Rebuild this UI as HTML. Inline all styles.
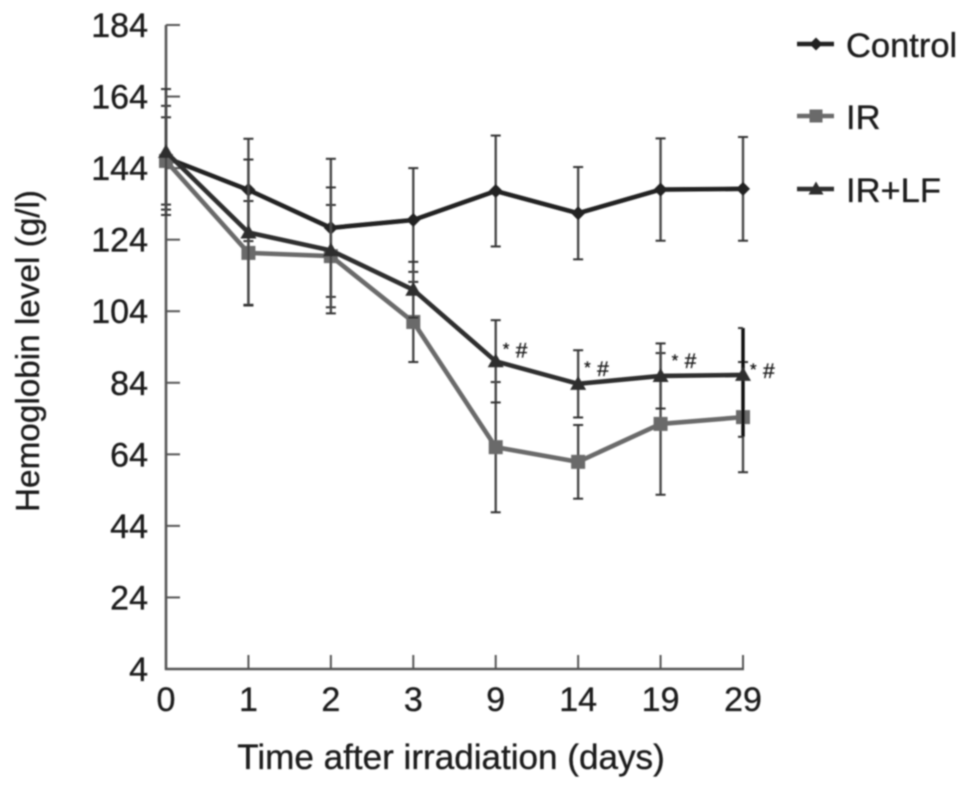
<!DOCTYPE html>
<html>
<head>
<meta charset="utf-8">
<style>
html,body{margin:0;padding:0;background:#fff;}
svg{display:block;}
text{font-family:"Liberation Sans",sans-serif;fill:#1c1c1c;stroke:#1c1c1c;stroke-width:0.35px;}
</style>
</head>
<body>
<svg id="chart" xmlns="http://www.w3.org/2000/svg" width="969" height="789" viewBox="0 0 969 789">
<defs><filter id="soft" x="-5%" y="-5%" width="110%" height="110%"><feGaussianBlur stdDeviation="0.7"/></filter></defs>
<g id="root" filter="url(#soft)"></g>
</svg>
<script>
const categories = ['0','1','2','3','9','14','19','29'];
const yTicks = [4,24,44,64,84,104,124,144,164,184];
const controlValues = [146.9,137.9,127.3,129.5,137.6,131.4,138,138.2];
const controlErrors = [14.5,14.3,19.3,14.5,15.5,12.9,14.3,14.5];
const irValues = [146,120.3,119.4,101,66,61.9,72.5,74.4];
const irErrors = [12.2,14.5,14.3,11.2,18.2,10.3,19.8,15.4];
const irlfValues = [148.5,126,121,110,90,83.7,85.9,86.2];
const irlfUpperErrors = [17.6,20.4,17.6,7.8,11.5,9.4,9.1,13.1];
const irlfLowerErrors = [17.6,20.4,17.6,7.8,11.5,9.4,9.1,17.3];
const annotatedPoints = [4,5,6,7];

const NS = 'http://www.w3.org/2000/svg';
const root = document.getElementById('root');
function xScale(i){ return 166 + i * (743 - 166) / (categories.length - 1); }
function yScale(v){ return 669 - (v - 4) * (669 - 25) / 180; }
function make(tag, attrs, parent){
  const el = document.createElementNS(NS, tag);
  for (const k in attrs) el.setAttribute(k, attrs[k]);
  (parent || root).appendChild(el);
  return el;
}
function marker(shape, x, y, color, size, parent){
  if (shape === 'diamond') {
    make('polygon', {points:`${x},${y-size} ${x+size},${y} ${x},${y+size} ${x-size},${y}`, fill:color}, parent);
  } else if (shape === 'square') {
    make('rect', {x:x-size, y:y-size, width:size*2, height:size*2, fill:color}, parent);
  } else {
    make('polygon', {points:`${x},${y-size-1} ${x+size+1},${y+size-1} ${x-size-1},${y+size-1}`, fill:color}, parent);
  }
}

/* axes */
const axisGroup = make('g', {stroke:'#555', 'stroke-width':2.6, fill:'none'});


make('line', {x1:166, y1:yScale(184), x2:166, y2:670}, axisGroup);
make('line', {x1:165, y1:669, x2:744, y2:669}, axisGroup);
yTicks.forEach(t => {
  if (t !== 4) make('line', {x1:166, y1:yScale(t), x2:180, y2:yScale(t), 'stroke-width':2}, axisGroup);
  const label = make('text', {x:148, y:yScale(t) + 12, 'text-anchor':'end', 'font-size':34});
  
  
  label.textContent = t;
});
categories.forEach((c, i) => {
  if (i > 0) make('line', {x1:xScale(i), y1:669, x2:xScale(i), y2:655, 'stroke-width':2}, axisGroup);
  const label = make('text', {x:xScale(i), y:711, 'text-anchor':'middle', 'font-size':34});
  
  
  label.textContent = c;
});

/* axis titles */
const yTitle = make('text', {transform:'translate(39,351) rotate(-90)', 'text-anchor':'middle', 'font-size':33.3});


yTitle.textContent = 'Hemoglobin level (g/l)';
const xTitle = make('text', {x:451, y:769, 'text-anchor':'middle', 'font-size':35.1});


xTitle.textContent = 'Time after irradiation (days)';

/* series */
function drawSeries(name, values, upper, lower, color, shape, size, width){
  const g = make('g', {});
  
  
  values.forEach((v, i) => {
    const x = xScale(i), top = yScale(v + upper[i]), bot = yScale(v - lower[i]);
    const heavy = name === 'ir-lf' && i === values.length - 1;
    make('line', {x1:x, y1:top, x2:x, y2:bot, stroke:heavy ? '#111' : '#4a4a4a', 'stroke-width':heavy ? 3.4 : 2.4}, g);
    make('line', {x1:x-5, y1:top, x2:heavy ? x : x+5, y2:top, stroke:'#333', 'stroke-width':2}, g);
    make('line', {x1:x-5, y1:bot, x2:heavy ? x : x+5, y2:bot, stroke:'#333', 'stroke-width':2}, g);
  });
  const pts = values.map((v, i) => xScale(i) + ',' + yScale(v)).join(' ');
  make('polyline', {points:pts, fill:'none', stroke:color, 'stroke-width':width}, g);
  values.forEach((v, i) => marker(shape, xScale(i), yScale(v), color, size, g));
}
drawSeries('control', controlValues, controlErrors, controlErrors, '#222', 'diamond', 7, 4.6);
drawSeries('ir', irValues, irErrors, irErrors, '#6a6a6a', 'square', 7, 4.6);
drawSeries('ir-lf', irlfValues, irlfUpperErrors, irlfLowerErrors, '#2e2e2e', 'triangle', 7, 4.6);

/* significance marks: hand placement relative to each annotated point */
const starDx = {4:7, 5:6, 6:11, 7:7};
const starDy = {4:-7, 5:-11, 6:-10, 7:0};
const hashDx = {4:20, 5:19, 6:24, 7:20};
const hashDy = {4:-4, 5:-8, 6:-8, 7:3};
annotatedPoints.forEach(i => {
  const x = xScale(i), y = yScale(irlfValues[i]);
  const star = make('text', {x:x + starDx[i], y:y + starDy[i], 'font-size':17, 'text-anchor':'start'});
  
  
  star.textContent = '*';
  const hash = make('text', {x:x + hashDx[i], y:y + hashDy[i], 'font-size':21, 'text-anchor':'start'});
  
  
  hash.textContent = '#';
});

/* legend */
const legendNames = ['Control','IR','IR+LF'];
const legendColors = ['#222','#6a6a6a','#2e2e2e'];
const legendShapes = ['diamond','square','triangle'];
const legendRows = [44,116,189];
legendNames.forEach((n, i) => {
  const g = make('g', {});
  
  
  make('line', {x1:797, y1:legendRows[i], x2:834, y2:legendRows[i], stroke:legendColors[i], 'stroke-width':4.4}, g);
  marker(legendShapes[i], 816, legendRows[i], legendColors[i], 6.5, g);
  const t = make('text', {x:846, y:legendRows[i] + 13, 'font-size':34.5}, g);
  
  
  t.textContent = n;
});
</script>
</body>
</html>
